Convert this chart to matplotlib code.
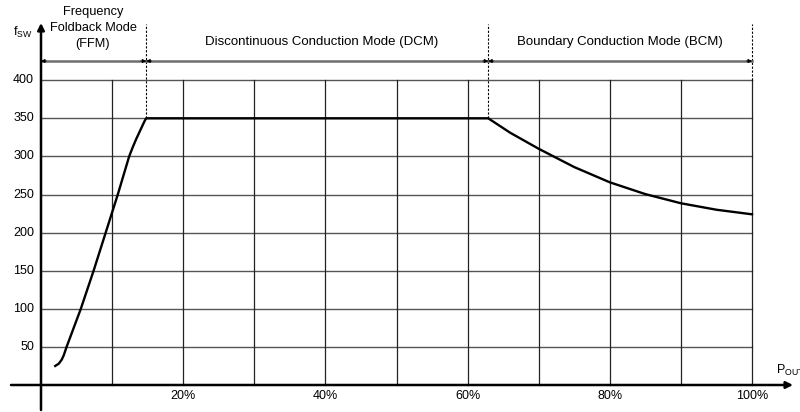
import matplotlib.pyplot as plt
import numpy as np

plt.rcParams['font.family'] = ['Liberation Sans', 'DejaVu Sans']

# curve data (P_out in %, f_sw in kHz)
p_out = [2.0, 2.5, 2.9, 3.2, 3.6, 5.6, 7.4, 9.1, 10.8, 12.4, 12.9, 13.4, 13.9,
         14.3, 14.6, 14.8,
         62.9, 66.0, 70.0, 75.0, 80.0, 85.0, 90.0, 95.0, 100.0]
f_sw = [25, 28, 33, 39, 50, 100, 150, 200, 250, 300, 312, 323, 333,
        341, 347, 350,
        350, 331, 310, 286, 266, 250.5, 238.5, 230, 224]

y_ticks = [50, 100, 150, 200, 250, 300, 350, 400]
x_grid = [10, 20, 30, 40, 50, 60, 70, 80, 90, 100]
x_labels = {20: '20%', 40: '40%', 60: '60%', 80: '80%', 100: '100%'}
mode_edges = [0, 14.8, 62.9, 100]
mode_names = ['Frequency\nFoldback Mode\n(FFM)',
              'Discontinuous Conduction Mode (DCM)',
              'Boundary Conduction Mode (BCM)']

fig = plt.figure(figsize=(8, 4.12), dpi=100)
ax = fig.add_axes([0, 0, 1, 1])
sx = 7.11   # px per %
sy = 0.762  # px per unit


def px(x, y):
    # pixel position (from top-left) to data coordinates
    return (x - 41) / sx, (385 - y) / sy


ax.set_xlim(-41 / sx, (800 - 41) / sx)
ax.set_ylim(-27 / sy, 385 / sy)
ax.axis('off')

# grid
for y in y_ticks:
    ax.plot([0, 100], [y, y], color='#555555', lw=1.0, zorder=1)
    ax.text(-7 / sx, y, str(y), ha='right', va='center', fontsize=9)
for x in x_grid:
    ax.plot([x, x], [0, 400], color='#222222', lw=0.9, zorder=1)
for x, lab in x_labels.items():
    ax.text(x, -5 / sy, lab, ha='center', va='top', fontsize=9)

# axes with arrows
ax.annotate('', xy=px(41, 23), xytext=px(41, 410),
            arrowprops=dict(arrowstyle='-|>', color='black', lw=1.8,
                            mutation_scale=10, shrinkA=0, shrinkB=0))
ax.annotate('', xy=px(793, 385), xytext=px(11, 385),
            arrowprops=dict(arrowstyle='-|>', color='black', lw=1.8,
                            mutation_scale=10, shrinkA=0, shrinkB=0))
ax.text(*px(13, 32), r'f$_{\mathregular{SW}}$', ha='left', va='center', fontsize=9)
ax.text(*px(776, 370), r'P$_{\mathregular{OUT}}$', ha='left', va='center', fontsize=9)

# mode boundaries
top = px(0, 24)[1]
for x in mode_edges[1:3]:
    ax.plot([x, x], [350, top], color='black', lw=0.8, ls=(0, (2, 1.5)), zorder=2)
ax.plot([100, 100], [400, top], color='black', lw=0.8, ls=(0, (2, 1.5)), zorder=2)

# span arrows: gray shaft, small black heads
arrow_y = px(0, 61)[1]
eps = 0.8
for a, b in zip(mode_edges[:-1], mode_edges[1:]):
    ax.plot([a, b], [arrow_y, arrow_y], color='#6e6e6e', lw=1.8, zorder=2)
    for tip, tail in ((a, a + eps), (b, b - eps)):
        ax.annotate('', xy=(tip, arrow_y), xytext=(tail, arrow_y),
                    arrowprops=dict(arrowstyle='-|>', color='black', lw=0.5,
                                    mutation_scale=6, shrinkA=0, shrinkB=0),
                    zorder=3)
for i, line in enumerate(mode_names[0].split('\n')):
    ax.text(*px(93, 12 + 16 * i), line, ha='center', va='center', fontsize=9.2)
ax.text(*px(322, 42), mode_names[1], ha='center', va='center', fontsize=9.5)
ax.text(*px(620, 42), mode_names[2], ha='center', va='center', fontsize=9.5)

ax.plot(p_out, f_sw, color='black', lw=1.7, zorder=3, solid_joinstyle='round')

fig.savefig('out.png', dpi=100)
